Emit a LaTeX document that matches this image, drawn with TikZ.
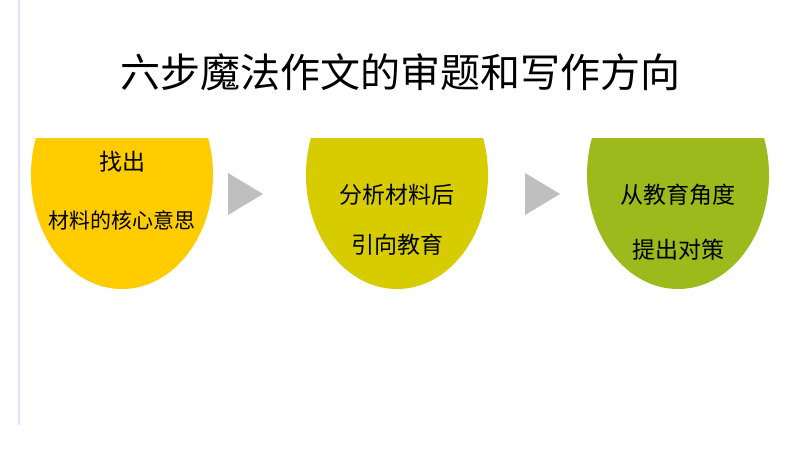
\documentclass[tikz,border=0pt]{standalone}
\usepackage{fontspec}
\newfontfamily\cjk{Noto Sans CJK SC}
\definecolor{cA}{HTML}{FFCC00}
\definecolor{cB}{HTML}{D6CC00}
\definecolor{cC}{HTML}{9CBA1C}
\definecolor{arr}{HTML}{BFBFBF}
\tikzset{lbl/.style={font=\cjk\fontsize{23}{26}\selectfont, inner sep=0pt},
 tri/.style={fill=arr, draw=none}}
\begin{document}
\begin{tikzpicture}[x=1pt,y=-1pt]
\useasboundingbox (0,0) rectangle (800,450);
\fill[white] (0,0) rectangle (800,450);
\draw[color=blue!12, line width=1.5pt] (19,0) -- (19,425);
\node[font=\cjk\fontsize{40}{44}\selectfont, inner sep=0pt] (title) at (400,72) {六步魔法作文的审题和写作方向};
\foreach \cx/\c/\n in {122/cA/a, 397/cB/b, 678/cC/c}{
  \begin{scope}
    \clip (\cx-100,138) rectangle (\cx+100,300);
    \fill[\c] (\cx,175) ellipse [x radius=91, y radius=114];
  \end{scope}
}
\fill[tri] (228,173) -- (263,194) -- (228,215) -- cycle;
\fill[tri] (525,173) -- (560,194) -- (525,215) -- cycle;
\node[lbl] (a1) at (122,162) {找出};
\node[lbl,font=\cjk\fontsize{21}{24}\selectfont] (a2) at (122,220) {材料的核心意思};
\node[lbl] (b1) at (397,195) {分析材料后};
\node[lbl] (b2) at (397,245) {引向教育};
\node[lbl] (c1) at (678,195) {从教育角度};
\node[lbl] (c2) at (678,250) {提出对策};
\end{tikzpicture}
\end{document}
